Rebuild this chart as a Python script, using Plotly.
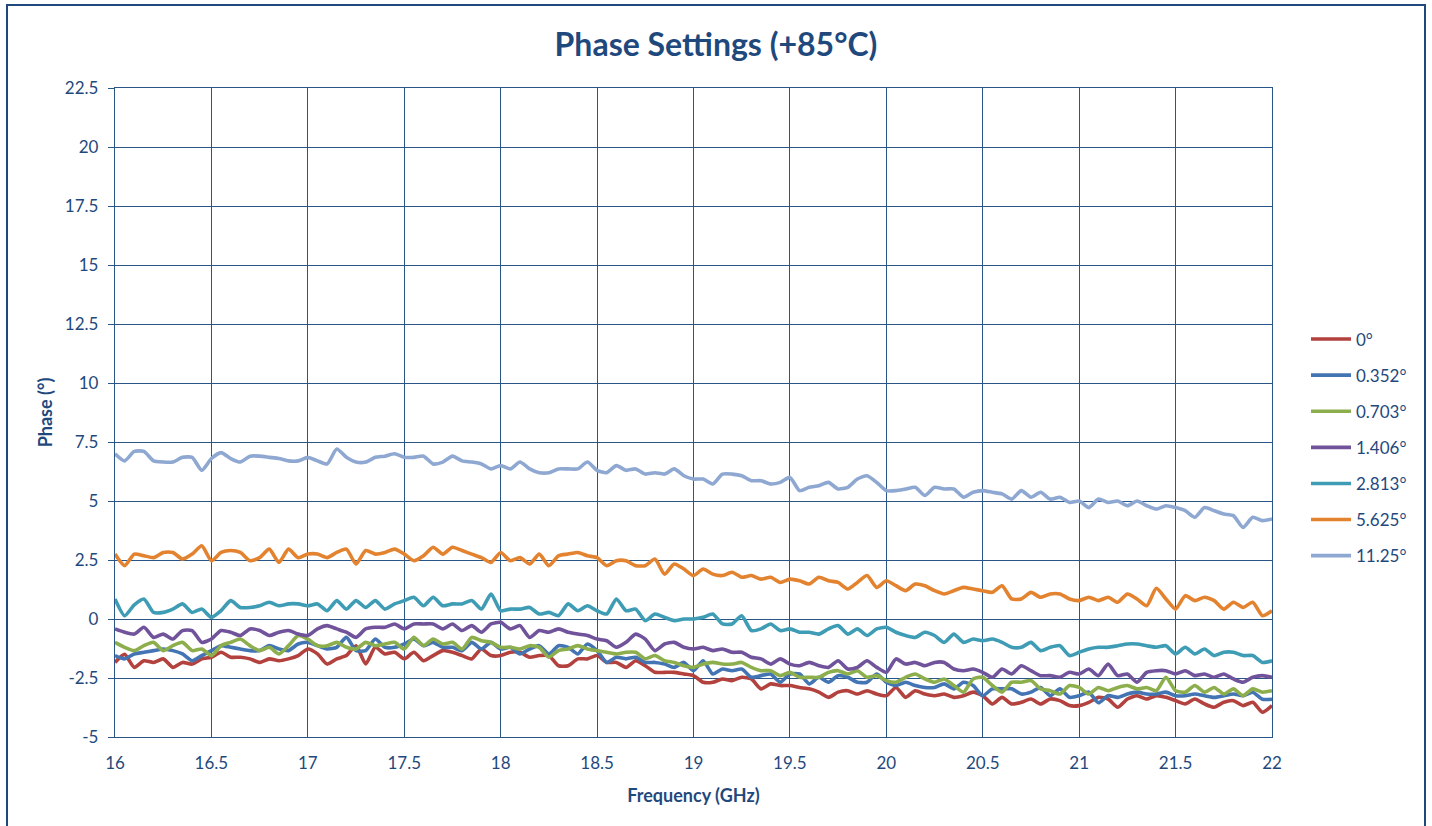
import plotly.graph_objects as go

# Frequency axis (GHz), 0.05 GHz steps
freq = [round(16 + 0.05 * i, 2) for i in range(121)]

phase_0 = [
    -1.84, -1.5, -2.05, -1.77, -1.84, -1.69, -2.05, -1.84, -1.91, -1.69, -1.62, -1.41, -1.62, -1.62, -1.69, -1.84, -1.69, -1.77, -1.69, -1.55,
    -1.27, -1.48, -1.91, -1.69, -1.55, -1.13, -1.9, -1.2, -1.48, -1.41, -1.69, -1.41, -1.77, -1.55, -1.34, -1.41, -1.55, -1.69, -1.27, -1.55,
    -1.55, -1.41, -1.41, -1.62, -1.55, -1.55, -1.98, -1.98, -1.69, -1.69, -1.55, -1.84, -1.84, -2.05, -1.77, -1.98, -2.26, -2.26, -2.26, -2.33,
    -2.4, -2.68, -2.68, -2.54, -2.61, -2.47, -2.54, -2.96, -2.75, -2.82, -2.82, -2.9, -2.96, -3.1, -3.32, -3.1, -3.04, -3.18, -3.04, -3.18,
    -3.25, -2.9, -3.32, -3.04, -3.18, -3.25, -3.18, -3.32, -3.25, -3.1, -3.25, -3.6, -3.32, -3.6, -3.53, -3.39, -3.6, -3.39, -3.46, -3.67,
    -3.67, -3.53, -3.32, -3.39, -3.74, -3.39, -3.25, -3.39, -3.25, -3.32, -3.46, -3.6, -3.39, -3.6, -3.74, -3.53, -3.46, -3.67, -3.53, -3.95, -3.67,
]
phase_0352 = [
    -1.55, -1.69, -1.48, -1.41, -1.34, -1.27, -1.34, -1.48, -1.77, -1.55, -1.34, -1.13, -1.2, -1.27, -1.34, -1.34, -1.13, -1.27, -1.34, -1.06,
    -0.99, -1.13, -1.27, -1.2, -0.78, -1.34, -1.34, -0.85, -1.2, -1.2, -1.06, -0.85, -1.13, -0.99, -1.2, -1.2, -1.34, -0.99, -1.27, -0.99,
    -1.27, -1.2, -1.48, -1.27, -1.13, -1.48, -1.13, -1.2, -1.48, -1.06, -1.34, -1.84, -1.62, -1.69, -1.62, -1.84, -1.84, -1.91, -2.05, -1.84,
    -2.19, -1.77, -2.33, -2.12, -2.19, -2.12, -2.47, -2.4, -2.33, -2.68, -2.33, -2.33, -2.75, -2.47, -2.68, -2.4, -2.47, -2.68, -2.68, -2.33,
    -2.68, -2.82, -2.68, -2.82, -2.9, -2.9, -2.75, -2.96, -2.68, -2.82, -3.25, -2.96, -2.96, -2.96, -3.18, -3.1, -2.9, -3.25, -2.96, -3.32,
    -3.25, -3.1, -3.55, -3.25, -3.32, -3.18, -3.1, -3.18, -3.18, -3.1, -3.25, -3.25, -3.18, -3.25, -3.32, -3.25, -3.18, -3.25, -3.1, -3.4, -3.4,
]
phase_0703 = [
    -0.99, -1.2, -1.34, -1.13, -0.99, -1.34, -1.13, -0.99, -1.34, -1.27, -1.55, -1.13, -0.99, -0.85, -1.13, -1.34, -1.2, -1.48, -1.13, -0.7,
    -0.85, -1.13, -1.13, -0.99, -1.2, -1.27, -0.99, -1.13, -1.06, -0.99, -1.27, -0.78, -1.13, -0.85, -1.06, -0.99, -1.27, -0.78, -0.92, -0.99,
    -1.2, -1.2, -1.27, -1.13, -1.2, -1.62, -1.34, -1.27, -1.13, -1.27, -1.34, -1.41, -1.48, -1.41, -1.41, -1.69, -1.55, -1.77, -1.84, -1.98,
    -2.05, -1.91, -1.84, -1.91, -1.91, -1.84, -2.05, -2.19, -2.19, -2.4, -2.26, -2.47, -2.47, -2.47, -2.26, -2.19, -2.33, -2.19, -2.47, -2.4,
    -2.61, -2.68, -2.47, -2.33, -2.54, -2.68, -2.54, -2.82, -3.1, -2.54, -2.47, -2.82, -3.1, -2.68, -2.68, -2.61, -2.96, -3.04, -3.18, -2.82,
    -2.9, -3.18, -2.9, -3.04, -2.9, -2.82, -2.96, -2.9, -3.04, -2.47, -3.04, -3.1, -2.82, -3.1, -2.9, -3.18, -2.96, -3.25, -2.96, -3.1, -3.04,
]
phase_1406 = [
    -0.42, -0.56, -0.64, -0.35, -0.78, -0.64, -0.85, -0.49, -0.49, -0.99, -0.85, -0.49, -0.56, -0.7, -0.42, -0.49, -0.7, -0.56, -0.49, -0.64,
    -0.7, -0.42, -0.28, -0.42, -0.56, -0.78, -0.42, -0.35, -0.35, -0.21, -0.42, -0.21, -0.21, -0.21, -0.42, -0.21, -0.49, -0.28, -0.56, -0.21,
    -0.14, -0.42, -0.28, -0.78, -0.49, -0.56, -0.42, -0.56, -0.64, -0.7, -0.85, -0.92, -1.2, -0.99, -0.64, -0.85, -1.34, -1.06, -0.99, -1.2,
    -1.27, -1.2, -1.34, -1.27, -1.41, -1.41, -1.62, -1.69, -1.91, -1.69, -1.91, -1.98, -1.84, -1.98, -2.05, -1.77, -2.12, -2.05, -1.77, -2.05,
    -2.26, -1.69, -1.91, -1.84, -1.98, -1.84, -1.84, -2.12, -2.19, -2.12, -2.26, -2.47, -2.12, -2.33, -1.98, -2.19, -2.4, -2.4, -2.47, -2.26,
    -2.33, -2.12, -2.4, -1.91, -2.4, -2.33, -2.68, -2.26, -2.19, -2.19, -2.33, -2.19, -2.4, -2.33, -2.47, -2.33, -2.54, -2.68, -2.47, -2.4, -2.47,
]
phase_2813 = [
    0.85, 0.14, 0.6, 0.85, 0.28, 0.28, 0.42, 0.64, 0.28, 0.42, 0.07, 0.35, 0.78, 0.49, 0.49, 0.56, 0.71, 0.56, 0.64, 0.64,
    0.56, 0.64, 0.35, 0.78, 0.42, 0.78, 0.49, 0.78, 0.42, 0.64, 0.78, 0.92, 0.56, 0.92, 0.56, 0.64, 0.64, 0.78, 0.42, 1.06,
    0.35, 0.42, 0.42, 0.49, 0.21, 0.28, 0.14, 0.64, 0.35, 0.56, 0.35, 0.21, 0.85, 0.35, 0.42, -0.07, 0.21, 0.07, -0.07, 0.0,
    0.0, 0.07, 0.21, -0.21, -0.21, 0.14, -0.49, -0.42, -0.21, -0.49, -0.42, -0.56, -0.56, -0.64, -0.42, -0.28, -0.64, -0.42, -0.7, -0.42,
    -0.35, -0.56, -0.7, -0.78, -0.56, -0.7, -0.99, -0.64, -0.99, -0.85, -0.92, -0.85, -0.99, -1.2, -1.2, -0.99, -1.34, -1.2, -1.13, -1.55,
    -1.41, -1.27, -1.2, -1.2, -1.13, -1.06, -1.06, -1.13, -1.2, -1.13, -1.48, -1.2, -1.48, -1.27, -1.55, -1.41, -1.41, -1.55, -1.55, -1.84, -1.77,
]
phase_5625 = [
    2.75, 2.26, 2.75, 2.68, 2.6, 2.82, 2.82, 2.54, 2.75, 3.1, 2.47, 2.82, 2.9, 2.82, 2.47, 2.6, 2.96, 2.4, 2.96, 2.6,
    2.75, 2.75, 2.6, 2.82, 2.96, 2.33, 2.9, 2.75, 2.82, 2.96, 2.75, 2.47, 2.68, 3.04, 2.75, 3.04, 2.9, 2.75, 2.6, 2.4,
    2.82, 2.47, 2.6, 2.33, 2.75, 2.26, 2.68, 2.75, 2.82, 2.68, 2.6, 2.26, 2.47, 2.47, 2.26, 2.26, 2.54, 1.9, 2.33, 2.12,
    1.84, 2.12, 1.9, 1.84, 1.98, 1.77, 1.84, 1.69, 1.77, 1.55, 1.69, 1.62, 1.48, 1.77, 1.62, 1.55, 1.27, 1.55, 1.84, 1.34,
    1.62, 1.41, 1.2, 1.48, 1.41, 1.2, 1.06, 1.2, 1.34, 1.27, 1.2, 1.13, 1.41, 0.85, 0.85, 1.13, 0.92, 1.06, 1.06, 0.85,
    0.78, 0.92, 0.78, 0.92, 0.71, 1.06, 0.85, 0.56, 1.3, 0.85, 0.42, 0.99, 0.78, 0.92, 0.78, 0.42, 0.71, 0.49, 0.71, 0.14, 0.35,
]
phase_1125 = [
    7.0, 6.7, 7.1, 7.1, 6.7, 6.65, 6.65, 6.85, 6.85, 6.3, 6.8, 7.05, 6.8, 6.65, 6.9, 6.9, 6.85, 6.8, 6.7, 6.7,
    6.85, 6.7, 6.57, 7.2, 6.85, 6.65, 6.65, 6.85, 6.9, 7.0, 6.85, 6.85, 6.9, 6.57, 6.65, 6.9, 6.7, 6.65, 6.57, 6.36,
    6.5, 6.36, 6.65, 6.36, 6.2, 6.2, 6.36, 6.36, 6.36, 6.65, 6.3, 6.2, 6.5, 6.3, 6.36, 6.14, 6.2, 6.14, 6.36, 6.07,
    5.93, 5.93, 5.72, 6.14, 6.14, 6.07, 5.86, 5.86, 5.72, 5.79, 6.0, 5.44, 5.58, 5.65, 5.79, 5.51, 5.58, 5.93, 6.07, 5.79,
    5.44, 5.44, 5.51, 5.58, 5.23, 5.58, 5.51, 5.51, 5.16, 5.37, 5.44, 5.37, 5.3, 5.08, 5.44, 5.16, 5.37, 5.08, 5.16, 4.94,
    5.0, 4.72, 5.08, 4.94, 5.0, 4.8, 5.0, 4.8, 4.66, 4.8, 4.72, 4.59, 4.31, 4.72, 4.59, 4.45, 4.38, 3.88, 4.31, 4.17, 4.24,
]

series_names = ["0°", "0.352°", "0.703°", "1.406°", "2.813°", "5.625°", "11.25°"]
series_values = [phase_0, phase_0352, phase_0703, phase_1406, phase_2813, phase_5625, phase_1125]
series_colors = ["#B3413D", "#4374B3", "#8DAE4C", "#70539A", "#3E9CB5", "#E3822F", "#8EA8D2"]

y_tickvals = [-5, -2.5, 0, 2.5, 5, 7.5, 10, 12.5, 15, 17.5, 20, 22.5]
y_ticktext = ["-5", "-2.5", "0", "2.5", "5", "7.5", "10", "12.5", "15", "17.5", "20", "22.5"]
x_tickvals = [16, 16.5, 17, 17.5, 18, 18.5, 19, 19.5, 20, 20.5, 21, 21.5, 22]
x_ticktext = ["16", "16.5", "17", "17.5", "18", "18.5", "19", "19.5", "20", "20.5", "21", "21.5", "22"]

TXT = "#1F497D"
GRID = "#2A5587"
FONT = "Lato"

fig = go.Figure()
for name, vals, col in zip(series_names, series_values, series_colors):
    assert len(vals) == len(freq)
    fig.add_trace(go.Scatter(
        x=freq, y=vals, name=name, mode="lines", legendgroup=name,
        line=dict(color=col, width=3.6, shape="spline", smoothing=0.6),
    ))

W, H = 1432, 826
L, R, T, B = 115, 160, 88, 89
pw, ph = W - L - R, H - T - B

def px_to_paper_x(px):
    return (px - L) / pw

def px_to_paper_y(py):
    return (H - B - py) / ph

fig.update_layout(
    width=W, height=H,
    margin=dict(l=L, r=R, t=T, b=B, pad=0),
    paper_bgcolor="white", plot_bgcolor="white",
    font=dict(family=FONT, color=TXT, size=17),
    title=dict(text="<b>Phase Settings (+85°C)</b>", x=0.5, xref="container", xanchor="center",
               y=1 - 45 / H, yref="container", yanchor="middle",
               font=dict(family=FONT, size=32, color=TXT)),
    showlegend=True,
    legend=dict(x=px_to_paper_x(1306), xanchor="left", y=px_to_paper_y(447.5), yanchor="middle",
                font=dict(family=FONT, size=17, color=TXT), tracegroupgap=11,
                bgcolor="rgba(0,0,0,0)", itemwidth=40),
    xaxis=dict(range=[16, 22], tickvals=x_tickvals, ticktext=x_ticktext,
               showgrid=True, gridcolor=GRID, gridwidth=1.3, zeroline=False,
               showline=True, linecolor=GRID, linewidth=1.3, mirror=True,
               ticks="", ticklabelstandoff=10, tickfont=dict(family=FONT, size=17, color=TXT),
               title=dict(text="<b>Frequency (GHz)</b>", font=dict(family=FONT, size=18, color=TXT), standoff=17)),
    yaxis=dict(range=[-5, 22.5], tickvals=y_tickvals, ticktext=y_ticktext,
               showgrid=True, gridcolor=GRID, gridwidth=1.3, zeroline=False,
               showline=True, linecolor=GRID, linewidth=1.3, mirror=True,
               ticks="outside", ticklen=6, tickcolor=GRID, tickwidth=1.3,
               ticklabelstandoff=6,
               tickfont=dict(family=FONT, size=17, color=TXT),
               title=dict(text="<b>Phase (°)</b>", font=dict(family=FONT, size=18, color=TXT), standoff=7)),
)

# Outer chart border
fig.add_shape(type="rect", xref="paper", yref="paper",
              x0=px_to_paper_x(7), x1=px_to_paper_x(1425),
              y0=px_to_paper_y(835), y1=px_to_paper_y(5),
              line=dict(color="#1F497D", width=2), fillcolor="rgba(0,0,0,0)", layer="below")

fig.write_html("out.html")
